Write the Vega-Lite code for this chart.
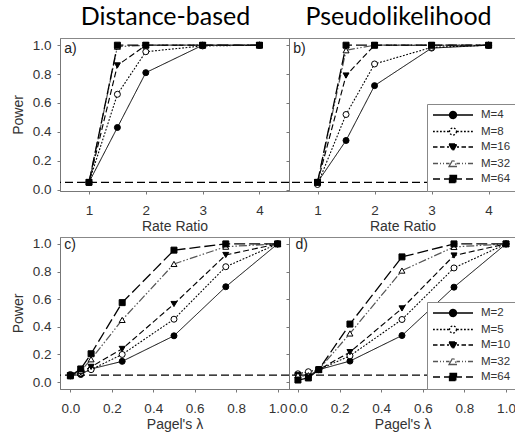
{
  "$schema": "https://vega.github.io/schema/vega-lite/v6.json",
  "padding": {"left": 10, "top": 4, "right": 0, "bottom": 0},
  "background": "white",
  "datasets": {
    "d": [
      {"p":"a","M":"M=4","x":1,"y":0.05},{"p":"a","M":"M=4","x":1.5,"y":0.43},{"p":"a","M":"M=4","x":2,"y":0.81},{"p":"a","M":"M=4","x":3,"y":1.0},{"p":"a","M":"M=4","x":4,"y":1.0},
      {"p":"a","M":"M=8","x":1,"y":0.05},{"p":"a","M":"M=8","x":1.5,"y":0.66},{"p":"a","M":"M=8","x":2,"y":0.955},{"p":"a","M":"M=8","x":3,"y":0.995},{"p":"a","M":"M=8","x":4,"y":1.0},
      {"p":"a","M":"M=16","x":1,"y":0.05},{"p":"a","M":"M=16","x":1.5,"y":0.86},{"p":"a","M":"M=16","x":2,"y":1.0},{"p":"a","M":"M=16","x":3,"y":1.0},{"p":"a","M":"M=16","x":4,"y":1.0},
      {"p":"a","M":"M=32","x":1,"y":0.05},{"p":"a","M":"M=32","x":1.5,"y":0.99},{"p":"a","M":"M=32","x":2,"y":1.0},{"p":"a","M":"M=32","x":3,"y":1.0},{"p":"a","M":"M=32","x":4,"y":1.0},
      {"p":"a","M":"M=64","x":1,"y":0.05},{"p":"a","M":"M=64","x":1.5,"y":1.0},{"p":"a","M":"M=64","x":2,"y":1.0},{"p":"a","M":"M=64","x":3,"y":1.0},{"p":"a","M":"M=64","x":4,"y":1.0},

      {"p":"b","M":"M=4","x":1,"y":0.05},{"p":"b","M":"M=4","x":1.5,"y":0.34},{"p":"b","M":"M=4","x":2,"y":0.72},{"p":"b","M":"M=4","x":3,"y":0.98},{"p":"b","M":"M=4","x":4,"y":1.0},
      {"p":"b","M":"M=8","x":1,"y":0.035},{"p":"b","M":"M=8","x":1.5,"y":0.52},{"p":"b","M":"M=8","x":2,"y":0.87},{"p":"b","M":"M=8","x":3,"y":0.985},{"p":"b","M":"M=8","x":4,"y":1.0},
      {"p":"b","M":"M=16","x":1,"y":0.05},{"p":"b","M":"M=16","x":1.5,"y":0.79},{"p":"b","M":"M=16","x":2,"y":1.0},{"p":"b","M":"M=16","x":3,"y":1.0},{"p":"b","M":"M=16","x":4,"y":1.0},
      {"p":"b","M":"M=32","x":1,"y":0.05},{"p":"b","M":"M=32","x":1.5,"y":0.965},{"p":"b","M":"M=32","x":2,"y":1.0},{"p":"b","M":"M=32","x":3,"y":1.0},{"p":"b","M":"M=32","x":4,"y":1.0},
      {"p":"b","M":"M=64","x":1,"y":0.05},{"p":"b","M":"M=64","x":1.5,"y":1.0},{"p":"b","M":"M=64","x":2,"y":1.0},{"p":"b","M":"M=64","x":3,"y":1.0},{"p":"b","M":"M=64","x":4,"y":1.0},

      {"p":"c","M":"M=2","x":0,"y":0.045},{"p":"c","M":"M=2","x":0.05,"y":0.055},{"p":"c","M":"M=2","x":0.1,"y":0.095},{"p":"c","M":"M=2","x":0.25,"y":0.15},{"p":"c","M":"M=2","x":0.5,"y":0.335},{"p":"c","M":"M=2","x":0.75,"y":0.69},{"p":"c","M":"M=2","x":1,"y":1.0},
      {"p":"c","M":"M=5","x":0,"y":0.055},{"p":"c","M":"M=5","x":0.05,"y":0.065},{"p":"c","M":"M=5","x":0.1,"y":0.09},{"p":"c","M":"M=5","x":0.25,"y":0.2},{"p":"c","M":"M=5","x":0.5,"y":0.455},{"p":"c","M":"M=5","x":0.75,"y":0.835},{"p":"c","M":"M=5","x":1,"y":1.0},
      {"p":"c","M":"M=10","x":0,"y":0.05},{"p":"c","M":"M=10","x":0.05,"y":0.07},{"p":"c","M":"M=10","x":0.1,"y":0.11},{"p":"c","M":"M=10","x":0.25,"y":0.24},{"p":"c","M":"M=10","x":0.5,"y":0.565},{"p":"c","M":"M=10","x":0.75,"y":0.92},{"p":"c","M":"M=10","x":1,"y":1.0},
      {"p":"c","M":"M=32","x":0,"y":0.05},{"p":"c","M":"M=32","x":0.05,"y":0.08},{"p":"c","M":"M=32","x":0.1,"y":0.165},{"p":"c","M":"M=32","x":0.25,"y":0.45},{"p":"c","M":"M=32","x":0.5,"y":0.855},{"p":"c","M":"M=32","x":0.75,"y":0.98},{"p":"c","M":"M=32","x":1,"y":1.0},
      {"p":"c","M":"M=64","x":0,"y":0.045},{"p":"c","M":"M=64","x":0.05,"y":0.095},{"p":"c","M":"M=64","x":0.1,"y":0.205},{"p":"c","M":"M=64","x":0.25,"y":0.575},{"p":"c","M":"M=64","x":0.5,"y":0.955},{"p":"c","M":"M=64","x":0.75,"y":1.0},{"p":"c","M":"M=64","x":1,"y":1.0},

      {"p":"d","M":"M=2","x":0,"y":0.055},{"p":"d","M":"M=2","x":0.05,"y":0.045},{"p":"d","M":"M=2","x":0.1,"y":0.09},{"p":"d","M":"M=2","x":0.25,"y":0.152},{"p":"d","M":"M=2","x":0.5,"y":0.337},{"p":"d","M":"M=2","x":0.75,"y":0.687},{"p":"d","M":"M=2","x":1,"y":1.0},
      {"p":"d","M":"M=5","x":0,"y":0.06},{"p":"d","M":"M=5","x":0.05,"y":0.075},{"p":"d","M":"M=5","x":0.1,"y":0.09},{"p":"d","M":"M=5","x":0.25,"y":0.19},{"p":"d","M":"M=5","x":0.5,"y":0.453},{"p":"d","M":"M=5","x":0.75,"y":0.826},{"p":"d","M":"M=5","x":1,"y":1.0},
      {"p":"d","M":"M=10","x":0,"y":0.05},{"p":"d","M":"M=10","x":0.05,"y":0.04},{"p":"d","M":"M=10","x":0.1,"y":0.09},{"p":"d","M":"M=10","x":0.25,"y":0.217},{"p":"d","M":"M=10","x":0.5,"y":0.533},{"p":"d","M":"M=10","x":0.75,"y":0.916},{"p":"d","M":"M=10","x":1,"y":1.0},
      {"p":"d","M":"M=32","x":0,"y":0.05},{"p":"d","M":"M=32","x":0.05,"y":0.05},{"p":"d","M":"M=32","x":0.1,"y":0.09},{"p":"d","M":"M=32","x":0.25,"y":0.352},{"p":"d","M":"M=32","x":0.5,"y":0.807},{"p":"d","M":"M=32","x":0.75,"y":0.978},{"p":"d","M":"M=32","x":1,"y":1.0},
      {"p":"d","M":"M=64","x":0,"y":0.015},{"p":"d","M":"M=64","x":0.05,"y":0.03},{"p":"d","M":"M=64","x":0.1,"y":0.09},{"p":"d","M":"M=64","x":0.25,"y":0.42},{"p":"d","M":"M=64","x":0.5,"y":0.906},{"p":"d","M":"M=64","x":0.75,"y":1.0},{"p":"d","M":"M=64","x":1,"y":1.0}
    ]
  },
  "spacing": 2,
  "resolve": {"scale": {"strokeDash": "independent", "stroke": "independent", "strokeWidth": "independent", "shape": "independent", "fill": "independent"}, "legend": {"strokeDash": "independent"}},
  "vconcat": [
    {
      "spacing": 0,
      "bounds": "flush",
      "resolve": {"scale": {"strokeDash": "independent", "stroke": "independent", "strokeWidth": "independent", "shape": "independent", "fill": "independent"}, "legend": {"strokeDash": "independent"}},
      "hconcat": [
        {
          "width": 229, "height": 153,
          "title": {"text": "Distance-based", "font": "Lato", "fontSize": 25, "fontWeight": "normal", "color": "black", "anchor": "middle", "baseline": "alphabetic", "offset": -11.5, "dx": -9},
          "data": {"name": "d"},
          "transform": [{"filter": "datum.p === 'a'"}],
          "layer": [
            {"data": {"values": [{}]}, "mark": {"type": "rule", "strokeDash": [8, 4], "color": "black", "strokeWidth": 1.2},
             "encoding": {"y": {"datum": 0.05, "type": "quantitative", "axis": {"title": "Power", "values": [0, 0.2, 0.4, 0.6, 0.8, 1.0], "format": ".1f", "labelOverlap": false}}}},
            {"mark": {"type": "line"},
             "encoding": {
               "x": {"field": "x", "type": "quantitative", "scale": {"domain": [0.49, 4.52], "nice": false, "zero": false}, "axis": {"title": "Rate Ratio", "values": [1, 2, 3, 4], "format": "d", "labelOverlap": false}},
               "y": {"field": "y", "type": "quantitative", "scale": {"domain": [-0.01, 1.05], "nice": false, "zero": false}, "axis": {"title": "Power", "values": [0, 0.2, 0.4, 0.6, 0.8, 1.0], "format": ".1f", "labelOverlap": false}},
               "strokeDash": {"field": "M", "type": "nominal", "scale": {"domain": ["M=4","M=8","M=16","M=32","M=64"], "range": [[1,0],[1.8,1.6],[6,3],[8,2,1.5,2,1.5,2],[11,4]]}, "legend": null},
               "stroke": {"field": "M", "type": "nominal", "scale": {"domain": ["M=64","M=32","M=16","M=8","M=4"], "range": ["#000","#555","#000","#000","#000"]}, "legend": null},
               "strokeWidth": {"field": "M", "type": "ordinal", "scale": {"domain": ["M=64","M=32","M=16","M=8","M=4"], "range": [1.3,1,1.3,2,1.3]}, "legend": null}
             }},
            {"mark": {"type": "point", "filled": true, "size": 36, "stroke": "black", "strokeWidth": 1, "opacity": 1},
             "encoding": {
               "x": {"field": "x", "type": "quantitative", "axis": {"title": "Rate Ratio", "values": [1, 2, 3, 4], "format": "d", "labelOverlap": false}},
               "y": {"field": "y", "type": "quantitative", "axis": {"title": "Power", "values": [0, 0.2, 0.4, 0.6, 0.8, 1.0], "format": ".1f", "labelOverlap": false}},
               "shape": {"field": "M", "type": "nominal", "scale": {"domain": ["M=64","M=32","M=16","M=8","M=4"], "range": ["square","triangle-up","triangle-down","circle","circle"]}, "legend": null},
               "fill": {"field": "M", "type": "nominal", "scale": {"domain": ["M=64","M=32","M=16","M=8","M=4"], "range": ["#000","#fff","#000","#fff","#000"]}, "legend": null}
             }},
            {"data": {"values": [{}]}, "mark": {"type": "text", "text": "a)", "align": "left", "baseline": "middle", "font": "Liberation Sans", "fontSize": 14, "color": "#222"},
             "encoding": {"x": {"datum": 0.565, "type": "quantitative", "axis": {"title": "Rate Ratio", "values": [1, 2, 3, 4], "format": "d", "labelOverlap": false}}, "y": {"datum": 0.975, "type": "quantitative", "axis": {"title": "Power", "values": [0, 0.2, 0.4, 0.6, 0.8, 1.0], "format": ".1f", "labelOverlap": false}}}}
          ]
        },
        {
          "width": 227, "height": 153,
          "title": {"text": "Pseudolikelihood", "font": "Lato", "fontSize": 25, "fontWeight": "normal", "color": "black", "anchor": "middle", "baseline": "alphabetic", "offset": -11.5, "dx": -4},
          "data": {"name": "d"},
          "transform": [{"filter": "datum.p === 'b'"}],
          "layer": [
            {"data": {"values": [{}]}, "mark": {"type": "rule", "strokeDash": [8, 4], "color": "black", "strokeWidth": 1.2},
             "encoding": {"y": {"datum": 0.05, "type": "quantitative", "axis": {"title": null, "labels": false, "values": [0, 0.2, 0.4, 0.6, 0.8, 1.0], "labelOverlap": false}}}},
            {"mark": {"type": "line"},
             "encoding": {
               "x": {"field": "x", "type": "quantitative", "scale": {"domain": [0.5, 4.48], "nice": false, "zero": false}, "axis": {"title": "Rate Ratio", "values": [1, 2, 3, 4], "format": "d", "labelOverlap": false}},
               "y": {"field": "y", "type": "quantitative", "scale": {"domain": [-0.01, 1.05], "nice": false, "zero": false}, "axis": {"title": null, "labels": false, "values": [0, 0.2, 0.4, 0.6, 0.8, 1.0], "labelOverlap": false}},
               "strokeDash": {"field": "M", "type": "nominal", "scale": {"domain": ["M=4","M=8","M=16","M=32","M=64"], "range": [[1,0],[1.8,1.6],[6,3],[8,2,1.5,2,1.5,2],[11,4]]},
                 "legend": {"orient": "bottom-right", "offset": 0, "title": null, "padding": 5, "strokeColor": "#888", "fillColor": "white", "symbolSize": 100, "symbolStrokeWidth": 1.3, "labelFont": "Liberation Sans", "labelFontSize": 11.5, "labelColor": "#333", "labelOffset": 37, "rowPadding": 2.5,
                   "encode": {"symbols": {"update": {
                     "shape": {"signal": "['M-1,0L2.3,0M3.7,0L7,0M3.7,0A0.7,0.7,0,1,1,2.3,0A0.7,0.7,0,1,1,3.7,0Z','M-1,0L-0.6,0M-0.3,0L0.1,0M0.4,0L0.8,0M1.1,0L1.5,0M1.8,0L2.2,0M3.8,0L4.2,0M4.5,0L4.9,0M5.2,0L5.6,0M5.9,0L6.3,0M6.6,0L7,0M3.7,0A0.7,0.7,0,1,1,2.3,0A0.7,0.7,0,1,1,3.7,0Z','M-1,0L-0.1,0M0.4,0L1.3,0M1.8,0L2.2,0M3.8,0L4.2,0M4.7,0L5.6,0M6.1,0L7,0M2.2,-0.6L3.8,-0.6L3,0.8Z','M-1,0L0,0M0.4,0L0.6,0M1,0L1.2,0M1.6,0L2.3,0M3.7,0L4.4,0M4.8,0L5,0M5.4,0L5.6,0M6,0L7,0M2.2,0.6L3.8,0.6L3,-0.8Z','M-1,0L0.4,0M1.2,0L2.3,0M3.7,0L4.8,0M5.6,0L7,0M2.3,-0.7L3.7,-0.7L3.7,0.7L2.3,0.7Z'][indexof(['M=4','M=8','M=16','M=32','M=64'], datum.value)]"},
                     "fill": {"signal": "['#000','#fff','#000','#fff','#000'][indexof(['M=4','M=8','M=16','M=32','M=64'], datum.value)]"},
                     "stroke": {"signal": "['#000','#000','#000','#555','#000'][indexof(['M=4','M=8','M=16','M=32','M=64'], datum.value)]"},
                     "strokeWidth": {"value": 1.3},
                     "strokeDash": {"value": [1, 0]},
                     "size": {"value": 100},
                     "opacity": {"value": 1},
                     "fillOpacity": {"value": 1}
                   }}}}},
               "stroke": {"field": "M", "type": "nominal", "scale": {"domain": ["M=64","M=32","M=16","M=8","M=4"], "range": ["#000","#555","#000","#000","#000"]}, "legend": null},
               "strokeWidth": {"field": "M", "type": "ordinal", "scale": {"domain": ["M=64","M=32","M=16","M=8","M=4"], "range": [1.3,1,1.3,2,1.3]}, "legend": null}
             }},
            {"mark": {"type": "point", "filled": true, "size": 36, "stroke": "black", "strokeWidth": 1, "opacity": 1},
             "encoding": {
               "x": {"field": "x", "type": "quantitative", "axis": {"title": "Rate Ratio", "values": [1, 2, 3, 4], "format": "d", "labelOverlap": false}},
               "y": {"field": "y", "type": "quantitative", "axis": {"title": null, "labels": false, "values": [0, 0.2, 0.4, 0.6, 0.8, 1.0], "labelOverlap": false}},
               "shape": {"field": "M", "type": "nominal", "scale": {"domain": ["M=64","M=32","M=16","M=8","M=4"], "range": ["square","triangle-up","triangle-down","circle","circle"]}, "legend": null},
               "fill": {"field": "M", "type": "nominal", "scale": {"domain": ["M=64","M=32","M=16","M=8","M=4"], "range": ["#000","#fff","#000","#fff","#000"]}, "legend": null}
             }},
            {"data": {"values": [{}]}, "mark": {"type": "text", "text": "b)", "align": "left", "baseline": "middle", "font": "Liberation Sans", "fontSize": 14, "color": "#222"},
             "encoding": {"x": {"datum": 0.575, "type": "quantitative", "axis": {"title": "Rate Ratio", "values": [1, 2, 3, 4], "format": "d", "labelOverlap": false}}, "y": {"datum": 0.975, "type": "quantitative", "axis": {"title": null, "labels": false, "values": [0, 0.2, 0.4, 0.6, 0.8, 1.0], "labelOverlap": false}}}}
          ]
        }
      ]
    },
    {
      "spacing": 0,
      "bounds": "flush",
      "resolve": {"scale": {"strokeDash": "independent", "stroke": "independent", "strokeWidth": "independent", "shape": "independent", "fill": "independent"}, "legend": {"strokeDash": "independent"}},
      "hconcat": [
        {
          "width": 229, "height": 152,
          "data": {"name": "d"},
          "transform": [{"filter": "datum.p === 'c'"}],
          "layer": [
            {"data": {"values": [{}]}, "mark": {"type": "rule", "strokeDash": [8, 4], "color": "black", "strokeWidth": 1.2},
             "encoding": {"y": {"datum": 0.05, "type": "quantitative", "axis": {"title": "Power", "values": [0, 0.2, 0.4, 0.6, 0.8, 1.0], "format": ".1f", "labelOverlap": false}}}},
            {"mark": {"type": "line"},
             "encoding": {
               "x": {"field": "x", "type": "quantitative", "scale": {"domain": [-0.05, 1.055], "nice": false, "zero": false}, "axis": {"title": "Pagel's λ", "values": [0, 0.2, 0.4, 0.6, 0.8, 1.0], "format": ".1f", "labelOverlap": false}},
               "y": {"field": "y", "type": "quantitative", "scale": {"domain": [-0.05, 1.05], "nice": false, "zero": false}, "axis": {"title": "Power", "values": [0, 0.2, 0.4, 0.6, 0.8, 1.0], "format": ".1f", "labelOverlap": false}},
               "strokeDash": {"field": "M", "type": "nominal", "scale": {"domain": ["M=2","M=5","M=10","M=32","M=64"], "range": [[1,0],[1.8,1.6],[6,3],[8,2,1.5,2,1.5,2],[11,4]]}, "legend": null},
               "stroke": {"field": "M", "type": "nominal", "scale": {"domain": ["M=64","M=32","M=10","M=5","M=2"], "range": ["#000","#555","#000","#000","#000"]}, "legend": null},
               "strokeWidth": {"field": "M", "type": "ordinal", "scale": {"domain": ["M=64","M=32","M=10","M=5","M=2"], "range": [1.3,1,1.3,2,1.3]}, "legend": null}
             }},
            {"mark": {"type": "point", "filled": true, "size": 36, "stroke": "black", "strokeWidth": 1, "opacity": 1},
             "encoding": {
               "x": {"field": "x", "type": "quantitative", "axis": {"title": "Pagel's λ", "values": [0, 0.2, 0.4, 0.6, 0.8, 1.0], "format": ".1f", "labelOverlap": false}},
               "y": {"field": "y", "type": "quantitative", "axis": {"title": "Power", "values": [0, 0.2, 0.4, 0.6, 0.8, 1.0], "format": ".1f", "labelOverlap": false}},
               "shape": {"field": "M", "type": "nominal", "scale": {"domain": ["M=64","M=32","M=10","M=5","M=2"], "range": ["square","triangle-up","triangle-down","circle","circle"]}, "legend": null},
               "fill": {"field": "M", "type": "nominal", "scale": {"domain": ["M=64","M=32","M=10","M=5","M=2"], "range": ["#000","#fff","#000","#fff","#000"]}, "legend": null}
             }},
            {"data": {"values": [{}]}, "mark": {"type": "text", "text": "c)", "align": "left", "baseline": "middle", "font": "Liberation Sans", "fontSize": 14, "color": "#222"},
             "encoding": {"x": {"datum": -0.029, "type": "quantitative", "axis": {"title": "Pagel's λ", "values": [0, 0.2, 0.4, 0.6, 0.8, 1.0], "format": ".1f", "labelOverlap": false}}, "y": {"datum": 0.99, "type": "quantitative", "axis": {"title": "Power", "values": [0, 0.2, 0.4, 0.6, 0.8, 1.0], "format": ".1f", "labelOverlap": false}}}}
          ]
        },
        {
          "width": 227, "height": 152,
          "data": {"name": "d"},
          "transform": [{"filter": "datum.p === 'd'"}],
          "layer": [
            {"data": {"values": [{}]}, "mark": {"type": "rule", "strokeDash": [8, 4], "color": "black", "strokeWidth": 1.2},
             "encoding": {"y": {"datum": 0.05, "type": "quantitative", "axis": {"title": null, "labels": false, "values": [0, 0.2, 0.4, 0.6, 0.8, 1.0], "labelOverlap": false}}}},
            {"mark": {"type": "line"},
             "encoding": {
               "x": {"field": "x", "type": "quantitative", "scale": {"domain": [-0.043, 1.048], "nice": false, "zero": false}, "axis": {"title": "Pagel's λ", "values": [0, 0.2, 0.4, 0.6, 0.8, 1.0], "format": ".1f", "labelOverlap": false}},
               "y": {"field": "y", "type": "quantitative", "scale": {"domain": [-0.05, 1.05], "nice": false, "zero": false}, "axis": {"title": null, "labels": false, "values": [0, 0.2, 0.4, 0.6, 0.8, 1.0], "labelOverlap": false}},
               "strokeDash": {"field": "M", "type": "nominal", "scale": {"domain": ["M=2","M=5","M=10","M=32","M=64"], "range": [[1,0],[1.8,1.6],[6,3],[8,2,1.5,2,1.5,2],[11,4]]},
                 "legend": {"orient": "bottom-right", "offset": 0, "title": null, "padding": 5, "strokeColor": "#888", "fillColor": "white", "symbolSize": 100, "symbolStrokeWidth": 1.3, "labelFont": "Liberation Sans", "labelFontSize": 11.5, "labelColor": "#333", "labelOffset": 37, "rowPadding": 2.5,
                   "encode": {"symbols": {"update": {
                     "shape": {"signal": "['M-1,0L2.3,0M3.7,0L7,0M3.7,0A0.7,0.7,0,1,1,2.3,0A0.7,0.7,0,1,1,3.7,0Z','M-1,0L-0.6,0M-0.3,0L0.1,0M0.4,0L0.8,0M1.1,0L1.5,0M1.8,0L2.2,0M3.8,0L4.2,0M4.5,0L4.9,0M5.2,0L5.6,0M5.9,0L6.3,0M6.6,0L7,0M3.7,0A0.7,0.7,0,1,1,2.3,0A0.7,0.7,0,1,1,3.7,0Z','M-1,0L-0.1,0M0.4,0L1.3,0M1.8,0L2.2,0M3.8,0L4.2,0M4.7,0L5.6,0M6.1,0L7,0M2.2,-0.6L3.8,-0.6L3,0.8Z','M-1,0L0,0M0.4,0L0.6,0M1,0L1.2,0M1.6,0L2.3,0M3.7,0L4.4,0M4.8,0L5,0M5.4,0L5.6,0M6,0L7,0M2.2,0.6L3.8,0.6L3,-0.8Z','M-1,0L0.4,0M1.2,0L2.3,0M3.7,0L4.8,0M5.6,0L7,0M2.3,-0.7L3.7,-0.7L3.7,0.7L2.3,0.7Z'][indexof(['M=2','M=5','M=10','M=32','M=64'], datum.value)]"},
                     "fill": {"signal": "['#000','#fff','#000','#fff','#000'][indexof(['M=2','M=5','M=10','M=32','M=64'], datum.value)]"},
                     "stroke": {"signal": "['#000','#000','#000','#555','#000'][indexof(['M=2','M=5','M=10','M=32','M=64'], datum.value)]"},
                     "strokeWidth": {"value": 1.3},
                     "strokeDash": {"value": [1, 0]},
                     "size": {"value": 100},
                     "opacity": {"value": 1},
                     "fillOpacity": {"value": 1}
                   }}}}},
               "stroke": {"field": "M", "type": "nominal", "scale": {"domain": ["M=64","M=32","M=10","M=5","M=2"], "range": ["#000","#555","#000","#000","#000"]}, "legend": null},
               "strokeWidth": {"field": "M", "type": "ordinal", "scale": {"domain": ["M=64","M=32","M=10","M=5","M=2"], "range": [1.3,1,1.3,2,1.3]}, "legend": null}
             }},
            {"mark": {"type": "point", "filled": true, "size": 36, "stroke": "black", "strokeWidth": 1, "opacity": 1},
             "encoding": {
               "x": {"field": "x", "type": "quantitative", "axis": {"title": "Pagel's λ", "values": [0, 0.2, 0.4, 0.6, 0.8, 1.0], "format": ".1f", "labelOverlap": false}},
               "y": {"field": "y", "type": "quantitative", "axis": {"title": null, "labels": false, "values": [0, 0.2, 0.4, 0.6, 0.8, 1.0], "labelOverlap": false}},
               "shape": {"field": "M", "type": "nominal", "scale": {"domain": ["M=64","M=32","M=10","M=5","M=2"], "range": ["square","triangle-up","triangle-down","circle","circle"]}, "legend": null},
               "fill": {"field": "M", "type": "nominal", "scale": {"domain": ["M=64","M=32","M=10","M=5","M=2"], "range": ["#000","#fff","#000","#fff","#000"]}, "legend": null}
             }},
            {"data": {"values": [{}]}, "mark": {"type": "text", "text": "d)", "align": "left", "baseline": "middle", "font": "Liberation Sans", "fontSize": 14, "color": "#222"},
             "encoding": {"x": {"datum": -0.012, "type": "quantitative", "axis": {"title": "Pagel's λ", "values": [0, 0.2, 0.4, 0.6, 0.8, 1.0], "format": ".1f", "labelOverlap": false}}, "y": {"datum": 0.99, "type": "quantitative", "axis": {"title": null, "labels": false, "values": [0, 0.2, 0.4, 0.6, 0.8, 1.0], "labelOverlap": false}}}}
          ]
        }
      ]
    }
  ],
  "config": {
    "view": {"stroke": "#888", "strokeWidth": 1},
    "axis": {"grid": false, "domainColor": "#777", "tickColor": "#777", "tickSize": 3, "labelFont": "Liberation Sans", "labelFontSize": 13.5, "labelColor": "#333", "titleFont": "Liberation Sans", "titleFontSize": 14, "titleFontWeight": "normal", "titleColor": "#333", "labelFlush": false, "labelOverlap": false},
    "axisX": {"labelPadding": 9, "titlePadding": 3},
    "axisY": {"labelPadding": 6, "titlePadding": 7}
  }
}
